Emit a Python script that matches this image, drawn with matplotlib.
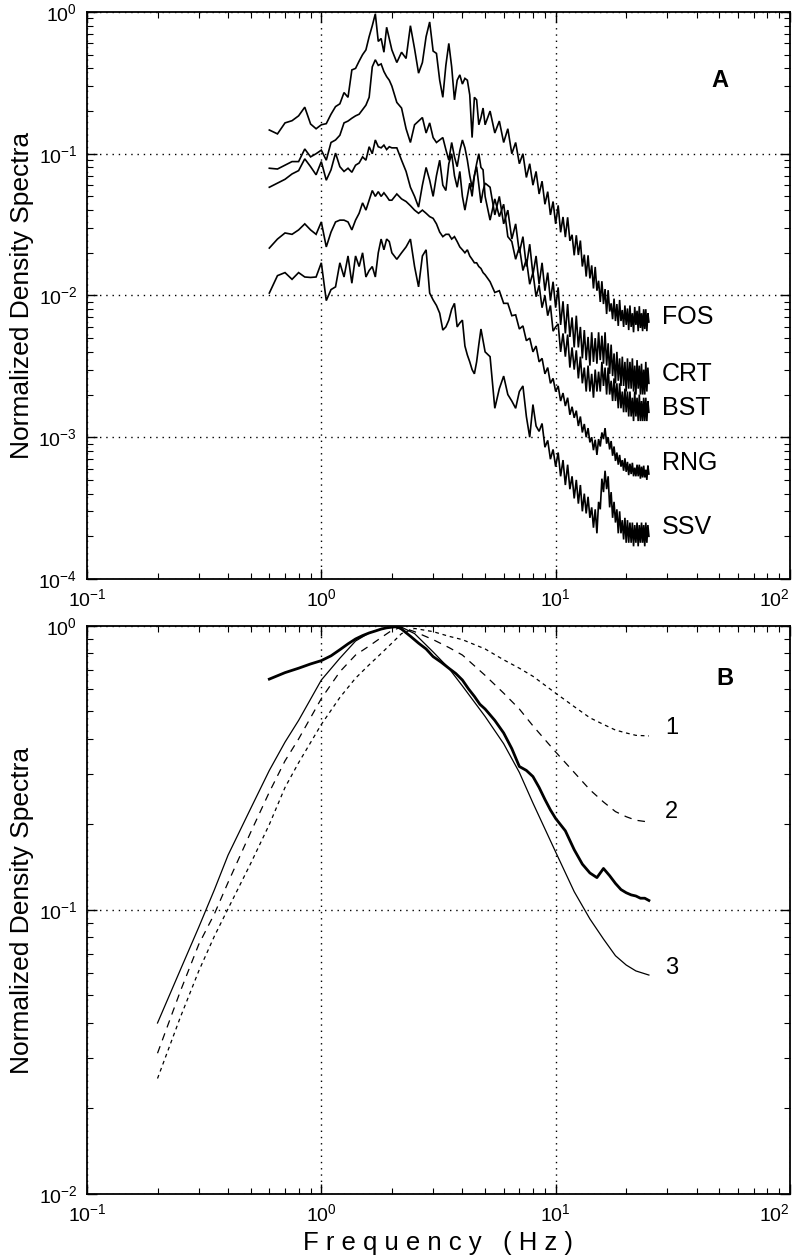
import matplotlib
matplotlib.use("Agg")
import matplotlib.pyplot as plt
from matplotlib.ticker import LogLocator, NullFormatter

plt.rcParams['font.family'] = ['Liberation Sans', 'DejaVu Sans']
plt.rcParams['mathtext.fontset'] = 'custom'
plt.rcParams['mathtext.rm'] = 'Liberation Sans'
plt.rcParams['mathtext.it'] = 'Liberation Sans:italic'
plt.rcParams['mathtext.bf'] = 'Liberation Sans:bold'

# ---------------- Panel A data ----------------
freq_A = [0.60, 0.65, 0.70, 0.75, 0.80, 0.85, 0.90, 0.95, 1.00, 1.05, 1.10, 1.15, 1.20, 1.25, 1.30,
          1.35, 1.40, 1.45, 1.50, 1.55, 1.60, 1.65, 1.70, 1.75, 1.80, 1.85, 1.90, 1.95, 2.00,
          2.1, 2.2, 2.3, 2.4, 2.5, 2.6, 2.7, 2.8, 2.9, 3.0, 3.1, 3.2, 3.3, 3.4, 3.5, 3.6, 3.7, 3.8,
          3.9, 4.0, 4.1, 4.2, 4.3, 4.4, 4.5, 4.6, 4.7, 4.8, 4.9, 5.0,
          5.25, 5.5, 5.75, 6.0, 6.25, 6.5, 6.75, 7.0, 7.25, 7.5, 7.75, 8.0, 8.25, 8.5, 8.75, 9.0,
          9.25, 9.5, 9.75, 10.0,
          10.25, 10.5, 10.75, 11.0, 11.25, 11.5, 11.75, 12.0, 12.25, 12.5, 12.75, 13.0, 13.25, 13.5, 13.75,
          14.0, 14.25, 14.5, 14.75, 15.0, 15.25, 15.5, 15.75, 16.0, 16.25, 16.5, 16.75, 17.0, 17.25, 17.5,
          17.75, 18.0, 18.25, 18.5, 18.75, 19.0, 19.25, 19.5, 19.75, 20.0, 20.25, 20.5, 20.75, 21.0, 21.25,
          21.5, 21.75, 22.0, 22.25, 22.5, 22.75, 23.0, 23.25, 23.5, 23.75, 24.0, 24.25, 24.5, 24.75, 25.0]

fos = [0.147, 0.138, 0.165, 0.171, 0.185, 0.213, 0.162, 0.150, 0.160, 0.163, 0.190, 0.215, 0.225, 0.270, 0.250,
       0.390, 0.400, 0.450, 0.500, 0.540, 0.670, 0.800, 0.970, 0.620, 0.650, 0.520, 0.780, 0.650, 0.540,
       0.44, 0.52, 0.47, 0.80, 0.55, 0.37, 0.44, 0.67, 0.85, 0.53, 0.51, 0.33, 0.25, 0.42, 0.60, 0.41, 0.24, 0.33,
       0.36, 0.31, 0.34, 0.33, 0.26, 0.13, 0.25, 0.24, 0.16, 0.18, 0.21, 0.16,
       0.20, 0.14, 0.17, 0.12, 0.15, 0.10, 0.12, 0.085, 0.10, 0.068, 0.085, 0.060, 0.075, 0.052, 0.064, 0.044,
       0.054, 0.037, 0.046, 0.032,
       0.0432, 0.0279, 0.0358, 0.0258, 0.0356, 0.0243, 0.0268, 0.0192, 0.0266, 0.0193, 0.0244, 0.0160, 0.0194, 0.0136, 0.0192,
       0.0132, 0.0163, 0.0112, 0.0159, 0.0108, 0.0127, 0.0090, 0.0126, 0.0087, 0.0111, 0.0074, 0.0109, 0.0077, 0.0088, 0.0068,
       0.0095, 0.0066, 0.0087, 0.0061, 0.0093, 0.0066, 0.0079, 0.0060, 0.0085, 0.0062, 0.0081, 0.0057, 0.0085, 0.0060, 0.0075,
       0.0055, 0.0083, 0.0062, 0.0078, 0.0056, 0.0084, 0.0059, 0.0075, 0.0056, 0.0080, 0.0058, 0.0080, 0.0056, 0.0075, 0.0065]

crt = [0.079, 0.078, 0.083, 0.088, 0.088, 0.108, 0.095, 0.100, 0.106, 0.090, 0.120, 0.125, 0.135, 0.165, 0.170,
       0.178, 0.185, 0.190, 0.205, 0.220, 0.250, 0.410, 0.460, 0.420, 0.430, 0.380, 0.350, 0.330, 0.300,
       0.23, 0.21, 0.15, 0.12, 0.16, 0.17, 0.18, 0.14, 0.165, 0.13, 0.12, 0.125, 0.13, 0.107, 0.09, 0.12, 0.095, 0.081,
       0.105, 0.125, 0.11, 0.09, 0.07, 0.058, 0.07, 0.081, 0.06, 0.045, 0.055, 0.062,
       0.058, 0.037, 0.050, 0.032, 0.040, 0.025, 0.032, 0.020, 0.026, 0.016, 0.023, 0.014, 0.019, 0.012, 0.017, 0.0108,
       0.0145, 0.0092, 0.0125, 0.0082,
       0.0114, 0.0062, 0.0091, 0.0054, 0.0087, 0.0051, 0.0070, 0.0043, 0.0072, 0.0043, 0.0060, 0.0036, 0.0057, 0.0035, 0.0051,
       0.0032, 0.0055, 0.0034, 0.0050, 0.0033, 0.0055, 0.0035, 0.0052, 0.0033, 0.0055, 0.0032, 0.0046, 0.0028, 0.0045, 0.0027,
       0.0039, 0.0024, 0.0040, 0.0025, 0.0036, 0.0023, 0.0037, 0.0023, 0.0034, 0.0021, 0.0036, 0.0022, 0.0034, 0.0022, 0.0036,
       0.0021, 0.0032, 0.0020, 0.0035, 0.0022, 0.0032, 0.0020, 0.0033, 0.0020, 0.0030, 0.0020, 0.0034, 0.0021, 0.0031, 0.0024]

bst = [0.058, 0.062, 0.066, 0.072, 0.076, 0.092, 0.081, 0.071, 0.088, 0.065, 0.077, 0.101, 0.081, 0.075, 0.079,
       0.074, 0.083, 0.086, 0.095, 0.090, 0.112, 0.100, 0.125, 0.112, 0.110, 0.115, 0.107, 0.112, 0.110,
       0.110, 0.090, 0.075, 0.058, 0.050, 0.042, 0.060, 0.080, 0.065, 0.050, 0.070, 0.090, 0.060, 0.055, 0.085, 0.100, 0.070, 0.058,
       0.075, 0.050, 0.040, 0.050, 0.062, 0.050, 0.070, 0.085, 0.100, 0.080, 0.077, 0.050,
       0.034, 0.048, 0.036, 0.044, 0.026, 0.024, 0.018, 0.022, 0.015, 0.018, 0.012, 0.0145, 0.0098, 0.0118, 0.0082, 0.0100,
       0.0072, 0.0085, 0.0056, 0.0060,
       0.0063, 0.0040, 0.0054, 0.0037, 0.0053, 0.0031, 0.0043, 0.0030, 0.0041, 0.0026, 0.0037, 0.0024, 0.0031, 0.0021, 0.0032,
       0.0021, 0.0028, 0.0019, 0.0030, 0.0021, 0.0029, 0.0021, 0.0034, 0.0023, 0.0031, 0.0020, 0.0031, 0.0020, 0.0025, 0.0018,
       0.0026, 0.0018, 0.0024, 0.0016, 0.0024, 0.0016, 0.0021, 0.0015, 0.0022, 0.0015, 0.0021, 0.0014, 0.0021, 0.0014, 0.0019,
       0.0013, 0.0021, 0.0014, 0.0019, 0.0013, 0.0020, 0.0013, 0.0018, 0.0013, 0.0019, 0.0013, 0.0019, 0.0013, 0.0018, 0.0015]

rng = [0.0216, 0.025, 0.0276, 0.027, 0.029, 0.032, 0.029, 0.027, 0.033, 0.022, 0.028, 0.033, 0.034, 0.034, 0.033,
       0.029, 0.034, 0.038, 0.045, 0.040, 0.047, 0.055, 0.050, 0.054, 0.050, 0.053, 0.050, 0.047, 0.047,
       0.052, 0.048, 0.046, 0.043, 0.040, 0.038, 0.040, 0.038, 0.036, 0.035, 0.032, 0.028, 0.026, 0.027, 0.027, 0.025, 0.026, 0.024,
       0.022, 0.021, 0.020, 0.021, 0.019, 0.018, 0.017, 0.017, 0.016, 0.0155, 0.0145, 0.014,
       0.0125, 0.0105, 0.0108, 0.0088, 0.0088, 0.0072, 0.0073, 0.0058, 0.0061, 0.0048, 0.0050, 0.0040, 0.0044, 0.0034, 0.0036, 0.0028,
       0.0031, 0.0024, 0.0026, 0.0021,
       0.00230, 0.00180, 0.00205, 0.00166, 0.00190, 0.00144, 0.00164, 0.00137, 0.00154, 0.00120, 0.00140, 0.00108, 0.00124, 0.00100, 0.00116,
       0.00092, 0.00100, 0.00081, 0.00096, 0.00075, 0.00097, 0.00086, 0.00108, 0.00097, 0.00116, 0.00090, 0.00100, 0.00082, 0.00094, 0.00074,
       0.00086, 0.00068, 0.00078, 0.00064, 0.00075, 0.00062, 0.00069, 0.00058, 0.00071, 0.00057, 0.00067, 0.00054, 0.00065, 0.00055, 0.00066,
       0.00053, 0.00061, 0.00053, 0.00064, 0.00053, 0.00064, 0.00051, 0.00062, 0.00052, 0.00063, 0.00052, 0.00059, 0.00050, 0.00063, 0.00055]

ssv = [0.0104, 0.0138, 0.0145, 0.013, 0.0145, 0.0135, 0.0134, 0.0135, 0.017, 0.0092, 0.011, 0.0115, 0.017, 0.0135, 0.019,
       0.0122, 0.019, 0.016, 0.020, 0.0135, 0.015, 0.016, 0.0135, 0.020, 0.025, 0.021, 0.025, 0.024, 0.020,
       0.018, 0.020, 0.022, 0.025, 0.016, 0.0115, 0.019, 0.021, 0.0104, 0.0093, 0.0085, 0.0075, 0.0057, 0.0060, 0.0067, 0.0080, 0.0088, 0.0060,
       0.0064, 0.0067, 0.0044, 0.0038, 0.0034, 0.0030, 0.0028, 0.0034, 0.0045, 0.0058, 0.0048, 0.0040,
       0.0037, 0.0016, 0.0022, 0.0027, 0.0020, 0.0018, 0.0016, 0.0021, 0.0023, 0.0014, 0.0010, 0.0017, 0.0012, 0.0011, 0.00125, 0.00085,
       0.00095, 0.00070, 0.00082, 0.00062,
       0.00078, 0.00053, 0.00069, 0.00046, 0.00064, 0.00043, 0.00053, 0.00037, 0.00050, 0.00034, 0.00046, 0.00030, 0.00040, 0.00029, 0.00038,
       0.00027, 0.00032, 0.00023, 0.00031, 0.00021, 0.00035, 0.00031, 0.00051, 0.00041, 0.00058, 0.00043, 0.00053, 0.00032, 0.00041, 0.00027,
       0.00035, 0.00025, 0.00031, 0.00021, 0.00030, 0.00021, 0.00026, 0.00019, 0.00027, 0.00018, 0.00026, 0.00018, 0.00025, 0.00018, 0.00025,
       0.00017, 0.00024, 0.00018, 0.00025, 0.00017, 0.00024, 0.00018, 0.00025, 0.00018, 0.00024, 0.00017, 0.00025, 0.00018, 0.00024, 0.00020]

series_A = [("FOS", fos), ("CRT", crt), ("BST", bst), ("RNG", rng), ("SSV", ssv)]

# ---------------- Panel B data ----------------
freq_model = [0.2, 0.25, 0.3, 0.35, 0.4, 0.5, 0.6, 0.7, 0.8, 1.0, 1.2, 1.4, 1.6, 1.8, 2.0, 2.2, 2.5,
              3.0, 3.5, 4.0, 5.0, 6.0, 7.0, 8.0, 10.0, 12.0, 14.0, 16.0, 18.0, 20.0, 22.0, 25.0]
model_1 = [0.0255, 0.0418, 0.061, 0.081, 0.101, 0.146, 0.200, 0.270, 0.330, 0.450, 0.560, 0.655, 0.730, 0.800,
           0.870, 0.940, 0.980, 0.955, 0.920, 0.895, 0.830, 0.760, 0.710, 0.665, 0.580, 0.520, 0.475, 0.450,
           0.430, 0.420, 0.412, 0.410]
model_2 = [0.0313, 0.0516, 0.0757, 0.097, 0.125, 0.188, 0.260, 0.335, 0.400, 0.555, 0.690, 0.790, 0.850, 0.910,
           0.965, 0.990, 0.955, 0.895, 0.840, 0.790, 0.670, 0.580, 0.510, 0.445, 0.360, 0.305, 0.265, 0.240,
           0.222, 0.213, 0.207, 0.204]
model_3 = [0.040, 0.0614, 0.087, 0.118, 0.156, 0.228, 0.310, 0.390, 0.465, 0.645, 0.770, 0.885, 0.945, 0.975,
           0.995, 0.990, 0.940, 0.810, 0.710, 0.615, 0.480, 0.385, 0.305, 0.238, 0.160, 0.116, 0.093, 0.079,
           0.069, 0.064, 0.061, 0.059]
model_labels = ["1", "2", "3"]

freq_obs = [0.6, 0.7, 0.8, 0.9, 1.0, 1.1, 1.2, 1.3, 1.4, 1.5, 1.6, 1.7, 1.8, 1.9, 2.0, 2.1, 2.2, 2.4, 2.6,
            2.8, 3.0, 3.25, 3.5, 3.75, 4.0, 4.25, 4.5, 4.75, 5.0, 5.5, 6.0, 6.5, 7.0, 7.5, 8.0, 8.5, 9.0,
            9.5, 10, 11, 12, 13, 14, 15, 16, 17, 18, 19, 20, 21, 22, 23, 24, 25]
obs = [0.65, 0.685, 0.71, 0.735, 0.755, 0.785, 0.825, 0.865, 0.90, 0.925, 0.945, 0.96, 0.975, 0.985, 0.99,
       0.995, 0.975, 0.92, 0.87, 0.83, 0.78, 0.745, 0.71, 0.68, 0.645, 0.60, 0.565, 0.53, 0.51, 0.465, 0.42,
       0.37, 0.32, 0.31, 0.295, 0.27, 0.245, 0.225, 0.21, 0.19, 0.163, 0.145, 0.135, 0.13, 0.14, 0.132, 0.124,
       0.118, 0.115, 0.113, 0.112, 0.110, 0.110, 0.108]

x_ticks = [0.1, 1, 10, 100]
x_tick_labels = [r'$10^{-1}$', r'$10^{0}$', r'$10^{1}$', r'$10^{2}$']
yA_ticks = [1e-4, 1e-3, 1e-2, 1e-1, 1]
yA_tick_labels = [r'$10^{-4}$', r'$10^{-3}$', r'$10^{-2}$', r'$10^{-1}$', r'$10^{0}$']
yB_ticks = [1e-2, 1e-1, 1]
yB_tick_labels = [r'$10^{-2}$', r'$10^{-1}$', r'$10^{0}$']

# ---------------- Figure ----------------
fig = plt.figure(figsize=(7.95, 12.6), dpi=100)
axA = fig.add_axes([0.1094, 0.5405, 0.8843, 0.450])
axB = fig.add_axes([0.1094, 0.0524, 0.8843, 0.4508])


def style(ax, ylo, yhi, yt, ytl):
    ax.set_xscale('log')
    ax.set_yscale('log')
    ax.set_xlim(0.1, 100)
    ax.set_ylim(ylo, yhi)
    ax.set_xticks(x_ticks, labels=x_tick_labels)
    ax.set_yticks(yt, labels=ytl)
    ax.xaxis.set_minor_locator(LogLocator(base=10, subs=range(2, 10), numticks=20))
    ax.yaxis.set_minor_locator(LogLocator(base=10, subs=range(2, 10), numticks=20))
    ax.xaxis.set_minor_formatter(NullFormatter())
    ax.yaxis.set_minor_formatter(NullFormatter())
    ax.tick_params(which='both', direction='in', top=True, right=True, colors='black')
    ax.tick_params(which='major', length=7, width=1.0, labelsize=14, pad=7)
    ax.tick_params(which='minor', length=4, width=0.8)
    ax.grid(True, which='major', linestyle=(0, (1, 3.5)), color='black', linewidth=1.0)
    for s in ax.spines.values():
        s.set_linewidth(1.3)
    ax.set_ylabel("Normalized Density Spectra", fontsize=19)
    ax.yaxis.set_label_coords(-0.075, 0.5)
    lab = ax.get_xticklabels()[-1]
    lab.set_horizontalalignment('right')


style(axA, 1e-4, 1.0, yA_ticks, yA_tick_labels)
for name, vals in series_A:
    axA.plot(freq_A, vals, color='black', linewidth=1.2, solid_joinstyle='miter')

label_pos_A = {"FOS": 0.462, "CRT": 0.3616, "BST": 0.3016, "RNG": 0.2046, "SSV": 0.0917}
for name, vals in series_A:
    axA.text(0.818, label_pos_A[name], name, transform=axA.transAxes, fontsize=18,
             va='center', ha='left')
axA.text(0.900, 0.880, "A", transform=axA.transAxes, fontsize=17, fontweight='bold',
         va='center', ha='center')

style(axB, 1e-2, 1.0, yB_ticks, yB_tick_labels)
axB.plot(freq_model, model_1, color='black', linewidth=0.9, linestyle=(0, (3, 3)))
axB.plot(freq_model, model_2, color='black', linewidth=0.9, linestyle=(0, (6, 5)))
axB.plot(freq_model, model_3, color='black', linewidth=0.9, linestyle='-')
axB.plot(freq_obs, obs, color='black', linewidth=2.0, linestyle='-')

label_pos_B = [0.820, 0.6725, 0.398]
for lab, yp in zip(model_labels, label_pos_B):
    axB.text(0.822, yp, lab, transform=axB.transAxes, fontsize=17, va='center', ha='left')
axB.text(0.9075, 0.908, "B", transform=axB.transAxes, fontsize=17, fontweight='bold',
         va='center', ha='center')

axB.set_xlabel("F r e q u e n c y   ( H z )", fontsize=18.5, labelpad=4)

fig.savefig("out.png", dpi=100)
